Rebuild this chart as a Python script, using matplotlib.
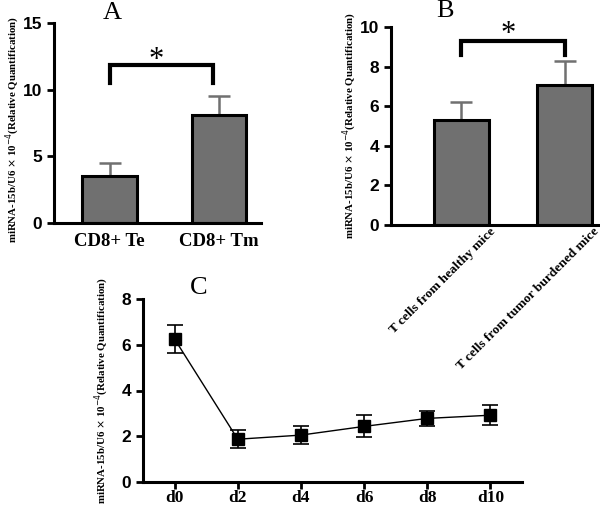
import matplotlib
matplotlib.use('Agg')
import matplotlib.pyplot as plt
from matplotlib.transforms import ScaledTranslation

# Panel A
cats_a = ['CD8+ Te', 'CD8+ Tm']
vals_a = [3.5, 8.1]
err_a = [1.0, 1.45]

# Panel B
cats_b = ['T cells from healthy mice', 'T cells from tumor burdened mice']
vals_b = [5.3, 7.05]
err_b = [0.92, 1.25]

# Panel C
days = ['d0', 'd2', 'd4', 'd6', 'd8', 'd10']
day_num = [0, 2, 4, 6, 8, 10]
vals_c = [6.25, 1.87, 2.05, 2.43, 2.78, 2.92]
err_c = [0.6, 0.4, 0.4, 0.48, 0.33, 0.43]

ylab = 'miRNA-15b/U6 $\\times$ 10$^{-4}$(Relative Quantification)'
serif = 'Liberation Serif'
sans = 'Liberation Sans'
bar_col = '#707070'

fig = plt.figure(figsize=(6, 5.05), dpi=100)


def style(ax, ticks_y, lx, ly):
    ax.patch.set_alpha(0)
    for s in ['top', 'right']:
        ax.spines[s].set_visible(False)
    for s in ['left', 'bottom']:
        ax.spines[s].set_linewidth(2.2)
    ax.tick_params(width=2, length=5, direction='out')
    ax.set_yticks(ticks_y)
    for t in ax.get_yticklabels():
        t.set_fontfamily(sans)
        t.set_fontweight('heavy')
        t.set_fontsize(12.5)
    ax.set_ylabel(ylab, family=serif, fontsize=7.8, fontweight='bold')
    ax.yaxis.set_label_coords(lx, ly)


def bars(ax, x, vals, err, width):
    ax.bar(x, vals, width=width, color=bar_col, edgecolor='black', linewidth=2.2, zorder=2)
    ax.errorbar(x, vals, yerr=[[0] * len(vals), err], fmt='none', ecolor='#707070',
                elinewidth=1.8, capsize=8, capthick=1.8, zorder=1)


def bracket(ax, x1, x2, ytop, ybot, ystar):
    ax.plot([x1, x1, x2, x2], [ybot, ytop, ytop, ybot], color='black', lw=3,
            solid_joinstyle='miter', clip_on=False)
    ax.text((x1 + x2) / 2 - 0.05, ystar, '*', ha='center', va='center',
            fontsize=22, family=serif)


# A
axA = fig.add_axes([0.09, 1 - 223 / 505, (261 - 54) / 600, 200 / 505])
xa = [0, 1]
bars(axA, xa, vals_a, err_a, 0.5)
axA.set_xlim(-0.51, 1.385)
axA.set_ylim(0, 15)
style(axA, [0, 5, 10, 15], -0.155, 0.465)
axA.set_xticks(xa)
axA.set_xticklabels(cats_a, family=serif, fontweight='bold', fontsize=13.5)
axA.tick_params(axis='x', length=0, pad=7)
bracket(axA, 0, 0.95, 11.85, 10.5, 12.2)

# B
axB = fig.add_axes([391 / 600, 1 - 225 / 505, (598 - 391) / 600, 198 / 505])
xb = [0, 1]
bars(axB, xb, vals_b, err_b, 0.53)
axB.set_xlim(-0.68, 1.32)
axB.set_ylim(0, 10)
style(axB, [0, 2, 4, 6, 8, 10], -0.155, 0.5)
axB.set_xticks(xb)
axB.set_xticklabels(cats_b, family=serif, fontweight='bold', fontsize=9.6,
                    rotation=45, ha='right', rotation_mode='anchor')
axB.tick_params(axis='x', length=0, pad=2)
for lab in axB.get_xticklabels():
    lab.set_transform(lab.get_transform() + ScaledTranslation(0.28, 0.02, fig.dpi_scale_trans))
bracket(axB, 0, 1, 9.3, 8.6, 9.6)

# C
axC = fig.add_axes([143 / 600, 1 - 482 / 505, (522 - 143) / 600, 183 / 505])
axC.errorbar(day_num, vals_c, yerr=err_c, fmt='s-', color='black', ms=9, lw=1,
             elinewidth=1.2, capsize=6, capthick=1.2, clip_on=False)
axC.set_xlim(-1, 11)
axC.set_ylim(0, 8)
style(axC, [0, 2, 4, 6, 8], -0.085, 0.5)
axC.set_xticks(day_num)
axC.set_xticklabels(days, family=serif, fontweight='bold', fontsize=12.5)
axC.tick_params(axis='x', pad=1)

# panel letters
fig.text(112 / 600, 1 - 13 / 505, 'A', family=serif, fontsize=19, ha='center', va='center')
fig.text(445 / 600, 1 - 11 / 505, 'B', family=serif, fontsize=19, ha='center', va='center')
fig.text(199 / 600, 1 - 288 / 505, 'C', family=serif, fontsize=19, ha='center', va='center')

fig.savefig('out.png', dpi=100)
